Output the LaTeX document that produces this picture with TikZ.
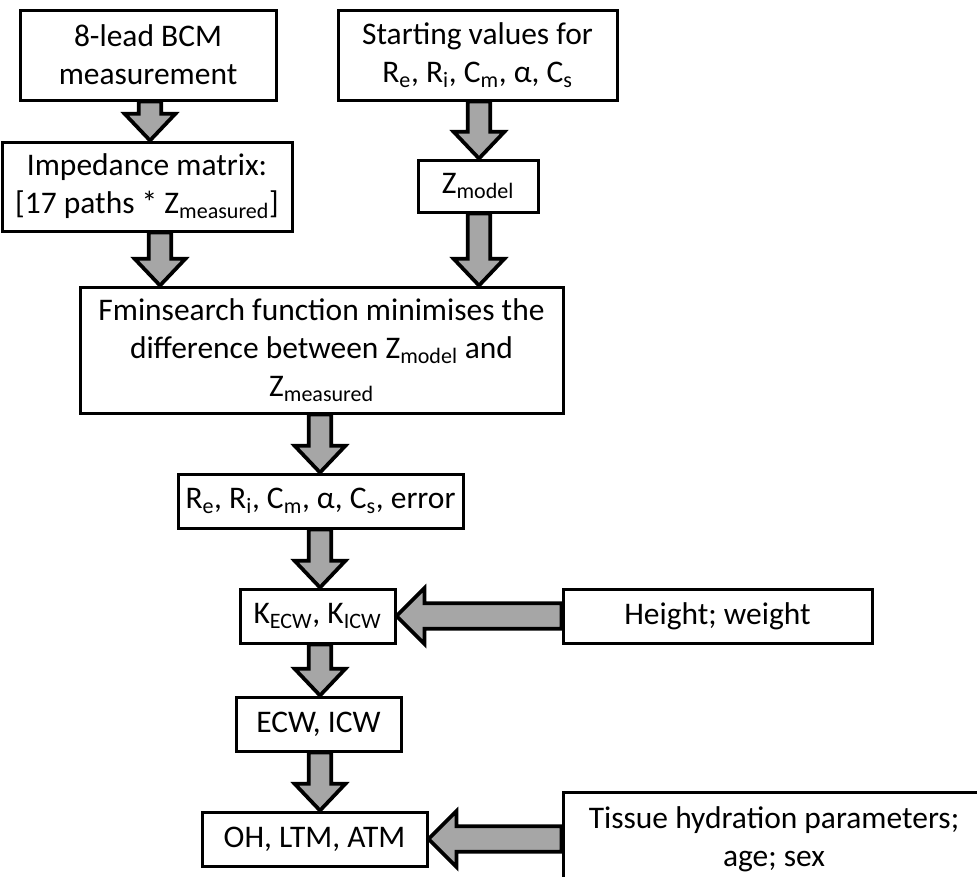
\documentclass[tikz,border=0pt]{standalone}
\usepackage{fontspec}
\setmainfont{Carlito}
\usetikzlibrary{calc}
\definecolor{arrowgray}{RGB}{166,166,166}

\tikzset{
  box/.style={draw=black, line width=2.25pt, fill=white, align=center,
    inner sep=0pt, font=\fontsize{23.6pt}{28.5pt}\selectfont},
  blockfill/.style={draw=black, fill=arrowgray, line width=2.8pt, line join=miter},
}

% thick block arrow pointing down, from #1 (tail) to #2 (tip)
\newcommand\downblock[2]{%
  \path[blockfill] let \p1=(#1), \p2=(#2) in
    (\x1-8.5pt,\y1) -- (\x1-8.5pt,\y2+20pt) -- (\x1-19pt,\y2+20pt) -- (\x2,\y2)
    -- (\x1+19pt,\y2+20pt) -- (\x1+8.5pt,\y2+20pt) -- (\x1+8.5pt,\y1) -- cycle;}
% thick block arrow pointing left, from #1 (tail) to #2 (tip)
\newcommand\leftblock[2]{%
  \path[blockfill] let \p1=(#1), \p2=(#2) in
    (\x1,\y1+9.5pt) -- (\x2+21pt,\y1+9.5pt) -- (\x2+21pt,\y1+21pt) -- (\x2,\y2)
    -- (\x2+21pt,\y1-21pt) -- (\x2+21pt,\y1-9.5pt) -- (\x1,\y1-9.5pt) -- cycle;}

\begin{document}
\begin{tikzpicture}[x=0.75pt, y=-0.75pt]
  \useasboundingbox (0,0) rectangle (977,876);
  \clip (0,0) rectangle (977,876);

  % boxes
  \node[box, minimum width=192pt, minimum height=67.5pt] (bcm) at (148,55)
    {8-lead BCM\\measurement};
  \node[box, minimum width=209.25pt, minimum height=67.5pt] (start) at (477.5,55)
    {Starting values for\\R\textsubscript{e}, R\textsubscript{i}, C\textsubscript{m}, α, C\textsubscript{s}};
  \node[box, minimum width=217.5pt, minimum height=66.75pt] (imp) at (147,186.5)
    {Impedance matrix:\\{}[17 paths * Z\textsubscript{measured}]};
  \node[box, minimum width=90pt, minimum height=39pt] (zmod) at (478,186)
    {Z\textsubscript{model}};
  \node[box, minimum width=362.25pt, minimum height=94.5pt] (fmin) at (321.5,350)
    {Fminsearch function minimises the\\difference between Z\textsubscript{model} and\\Z\textsubscript{measured}};
  \node[box, minimum width=213.75pt, minimum height=40.5pt] (par) at (320.5,501)
    {R\textsubscript{e}, R\textsubscript{i}, C\textsubscript{m}, α, C\textsubscript{s}, error};
  \node[box, minimum width=116.25pt, minimum height=40.5pt] (kcw) at (317.5,616)
    {K\textsubscript{ECW}, K\textsubscript{ICW}};
  \node[box, minimum width=231.75pt, minimum height=40.5pt] (hw) at (717.5,616)
    {Height; weight};
  \node[box, minimum width=123.75pt, minimum height=40.5pt] (ecw) at (318.5,724)
    {ECW, ICW};
  \node[box, minimum width=168.75pt, minimum height=40.5pt] (oh) at (314.5,839)
    {OH, LTM, ATM};
  \node[box, minimum width=316.5pt, minimum height=70.5pt] (tis) at (774,839)
    {Tissue hydration parameters;\\age; sex};

  % arrow axes
  \coordinate (ax1) at (150,0);
  \coordinate (ax2) at (160,0);
  \coordinate (ax3) at (479,0);
  \coordinate (ax4) at (320,0);

  % block arrows
  \downblock{ax1 |- bcm.south}{ax1 |- imp.north}
  \downblock{ax3 |- start.south}{ax3 |- zmod.north}
  \downblock{ax2 |- imp.south}{ax2 |- fmin.north}
  \downblock{ax3 |- zmod.south}{ax3 |- fmin.north}
  \downblock{ax4 |- fmin.south}{ax4 |- par.north}
  \downblock{ax4 |- par.south}{ax4 |- kcw.north}
  \downblock{ax4 |- kcw.south}{ax4 |- ecw.north}
  \downblock{ax4 |- ecw.south}{ax4 |- oh.north}
  \leftblock{hw.west |- kcw.east}{kcw.east}
  \leftblock{tis.west |- oh.east}{oh.east}
\end{tikzpicture}
\end{document}
